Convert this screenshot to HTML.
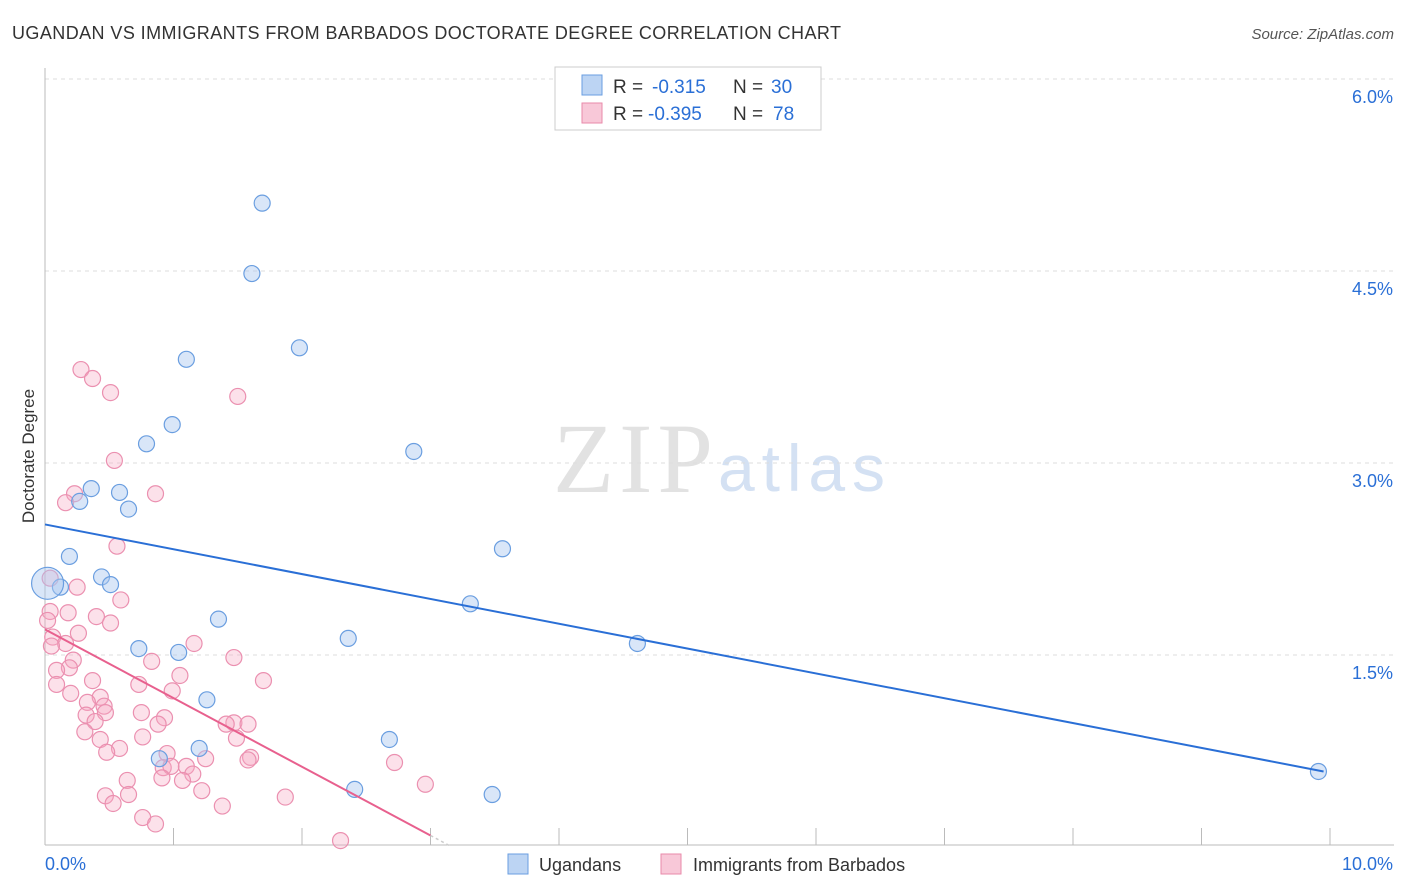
<!DOCTYPE html>
<html><head><meta charset="utf-8"><style>
body{margin:0;background:#fff;font-family:"Liberation Sans",sans-serif;}
svg{display:block}
</style></head><body>
<svg id="chart" width="1406" height="892">
<text x="12" y="39" font-size="18" fill="#333" textLength="829">UGANDAN VS IMMIGRANTS FROM BARBADOS DOCTORATE DEGREE CORRELATION CHART</text>
<text x="1394" y="39" font-size="15" fill="#555" font-style="italic" text-anchor="end">Source: ZipAtlas.com</text>
<text x="34" y="456" font-size="17" fill="#333" transform="rotate(-90 34 456)" text-anchor="middle">Doctorate Degree</text>
<text x="553" y="492" font-size="100" fill="#e2e2e2" font-family="Liberation Serif,serif" textLength="160">ZIP</text>
<text x="718" y="491" font-size="66" fill="#d4e1f3" textLength="167">atlas</text>
<g id="grid"></g><g id="axes"></g><g id="pts"></g><g id="lines"></g>
<g>
<rect x="555" y="67" width="266" height="63" fill="#fff" stroke="#ccc"/>
<rect x="582" y="75" width="20" height="20" fill="#bcd4f3" stroke="#6a9ee0"/>
<text x="613" y="93" font-size="19" fill="#333">R =</text>
<text x="652" y="93" font-size="19" fill="#2a6fd6">-0.315</text>
<text x="733" y="93" font-size="19" fill="#333">N =</text>
<text x="771" y="93" font-size="19" fill="#2a6fd6">30</text>
<rect x="582" y="103" width="20" height="20" fill="#f8c8d8" stroke="#e88aaa"/>
<text x="613" y="120" font-size="19" fill="#333">R =</text>
<text x="648" y="120" font-size="19" fill="#2a6fd6">-0.395</text>
<text x="733" y="120" font-size="19" fill="#333">N =</text>
<text x="773" y="120" font-size="19" fill="#2a6fd6">78</text>
</g>
<g>
<rect x="508" y="854" width="20" height="20" fill="#bcd4f3" stroke="#6a9ee0"/>
<text x="539" y="871" font-size="18" fill="#333">Ugandans</text>
<rect x="661" y="854" width="20" height="20" fill="#f8c8d8" stroke="#e88aaa"/>
<text x="693" y="871" font-size="18" fill="#333">Immigrants from Barbados</text>
</g>
<text x="45" y="870" font-size="18" fill="#2a6fd6">0.0%</text>
<text x="1393" y="870" font-size="18" fill="#2a6fd6" text-anchor="end">10.0%</text>
</svg>
<script>
const yTicks=[1.5,3.0,4.5,6.0];
const yTickLabels=["1.5%","3.0%","4.5%","6.0%"];
const blueX=[1.69,1.61,1.98,1.10,0.99,0.79,2.87,0.36,0.58,0.27,0.65,3.56,0.19,0.44,0.51,0.12,3.31,1.35,2.36,4.61,0.73,1.04,1.26,2.68,1.20,0.89,2.41,3.48,9.91,0.02];
const blueY=[5.03,4.48,3.90,3.81,3.30,3.15,3.09,2.80,2.77,2.70,2.64,2.33,2.27,2.11,2.05,2.03,1.90,1.78,1.63,1.59,1.55,1.52,1.15,0.84,0.77,0.69,0.45,0.41,0.59,2.06];
const pinkX=[0.28,0.37,0.51,1.50,0.54,0.23,0.86,0.16,0.56,0.04,0.25,0.59,0.04,0.18,0.40,0.51,0.02,0.26,0.06,0.16,1.16,0.05,1.47,0.83,0.22,0.19,0.09,1.05,1.70,0.37,0.73,0.09,0.99,0.20,0.43,0.33,0.46,0.75,0.32,0.47,0.39,0.93,0.88,1.47,1.58,1.41,0.31,1.49,0.43,0.76,0.58,0.48,0.95,1.25,1.60,1.58,2.72,1.10,0.92,0.98,1.15,0.91,0.64,1.07,2.96,1.22,0.47,0.65,1.87,0.53,1.38,0.76,0.86,2.30];
const pinkY=[3.73,3.66,3.55,3.52,3.02,2.76,2.76,2.69,2.35,2.10,2.03,1.93,1.84,1.83,1.80,1.75,1.77,1.67,1.64,1.59,1.59,1.57,1.48,1.45,1.46,1.40,1.38,1.34,1.30,1.30,1.27,1.27,1.22,1.20,1.17,1.13,1.10,1.05,1.03,1.05,0.98,1.01,0.96,0.97,0.96,0.96,0.90,0.85,0.84,0.86,0.77,0.74,0.73,0.69,0.70,0.68,0.66,0.63,0.62,0.63,0.57,0.54,0.52,0.52,0.49,0.44,0.40,0.41,0.39,0.34,0.32,0.23,0.18,0.05];
const blueTrend=[[0,2.52],[9.95,0.59]];
const pinkTrend=[[0,1.70],[3.0,0.09]];
const NS="http://www.w3.org/2000/svg";
const X=v=>45+v*128.5, Y=v=>847-v*128;
function mk(t,a,p){const e=document.createElementNS(NS,t);for(const k in a)e.setAttribute(k,a[k]);p.appendChild(e);return e;}
const grid=document.getElementById('grid'),axes=document.getElementById('axes'),pts=document.getElementById('pts'),lines=document.getElementById('lines');
yTicks.forEach((t,i)=>{
 const l=mk('line',{x1:45,x2:1394,y1:Y(t),y2:Y(t),stroke:'#ddd','stroke-dasharray':'4,4'},grid);
 
 
 const tx=mk('text',{x:1393,y:Y(t)+24,'font-size':18,fill:'#2a6fd6','text-anchor':'end'},grid);
 tx.textContent=yTickLabels[i];
 
 
});
mk('line',{x1:45,x2:45,y1:68,y2:845,stroke:'#bbb'},axes);
mk('line',{x1:45,x2:1394,y1:845,y2:845,stroke:'#bbb'},axes);
for(let i=0;i<=10;i++){const t=mk('line',{x1:X(i),x2:X(i),y1:828,y2:845,stroke:'#bbb'},axes);}
pinkX.forEach((x,i)=>{
 const c=mk('circle',{cx:X(x),cy:Y(pinkY[i]),r:8,fill:'rgba(246,170,196,0.35)',stroke:'#eb90b0','stroke-width':1.2},pts);
 
 
});
blueX.forEach((x,i)=>{
 const c=mk('circle',{cx:X(x),cy:Y(blueY[i]),r:i==blueX.length-1?16:8,fill:'rgba(170,200,240,0.45)',stroke:'#6a9ee0','stroke-width':1.2},pts);
 
 
});
const bl=mk('line',{x1:X(blueTrend[0][0]),y1:Y(blueTrend[0][1]),x2:X(blueTrend[1][0]),y2:Y(blueTrend[1][1]),stroke:'#2a6fd6','stroke-width':2},lines);


const pl=mk('line',{x1:X(pinkTrend[0][0]),y1:Y(pinkTrend[0][1]),x2:X(pinkTrend[1][0]),y2:Y(pinkTrend[1][1]),stroke:'#e8608e','stroke-width':2},lines);


const slope=(pinkTrend[1][1]-pinkTrend[0][1])/(pinkTrend[1][0]-pinkTrend[0][0]);
const pd=mk('line',{x1:X(pinkTrend[1][0]),y1:Y(pinkTrend[1][1]),x2:X(3.15),y2:Y(pinkTrend[1][1]+slope*0.15),stroke:'#ccc','stroke-width':1.5,'stroke-dasharray':'3,3'},lines);


</script>
</body></html>
